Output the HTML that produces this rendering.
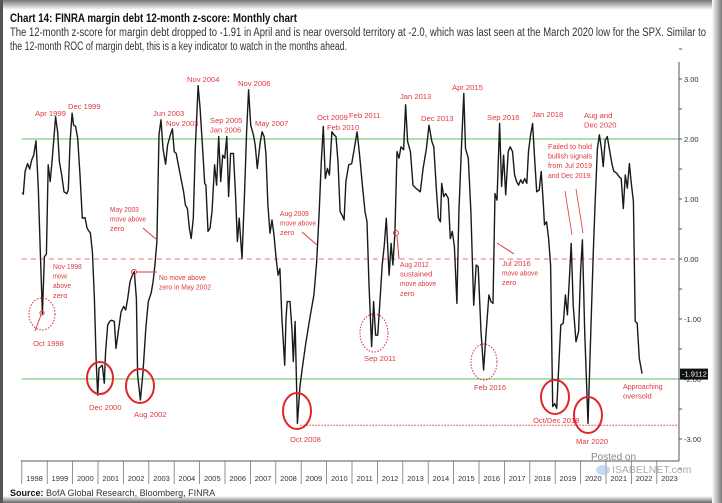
<!DOCTYPE html>
<html><head><meta charset="utf-8"><style>
html,body{margin:0;padding:0;background:#fff;}
#wrap{position:relative;width:722px;height:503px;overflow:hidden;background:#fff;}
svg{position:absolute;left:0;top:0;}
.nar{font-family:"Liberation Sans Narrow","Liberation Sans",sans-serif;}
</style></head><body>
<div id="wrap">
<svg id="chart" width="722" height="503" viewBox="0 0 722 503" xmlns="http://www.w3.org/2000/svg">
<defs>
<linearGradient id="gt" x1="0" y1="0" x2="0" y2="1"><stop offset="0" stop-color="#777"/><stop offset="1" stop-color="#fff"/></linearGradient>
<linearGradient id="gb" x1="0" y1="0" x2="0" y2="1"><stop offset="0" stop-color="#fff"/><stop offset="1" stop-color="#666"/></linearGradient>
<linearGradient id="gr" x1="0" y1="0" x2="1" y2="0"><stop offset="0" stop-color="#fff"/><stop offset="1" stop-color="#777"/></linearGradient>
</defs>
<rect x="0" y="0" width="722" height="10" fill="url(#gt)"/>
<rect x="0" y="496" width="722" height="7" fill="url(#gb)"/>
<rect x="712" y="0" width="10" height="503" fill="url(#gr)"/>
<rect x="0" y="0" width="3" height="503" fill="#555"/>

<text x="10" y="22" class="nar" font-size="12" font-weight="bold" fill="#111" textLength="287" lengthAdjust="spacingAndGlyphs">Chart 14: FINRA margin debt 12-month z-score: Monthly chart</text>
<text x="10" y="36" class="nar" font-size="11.5" fill="#333" textLength="696" lengthAdjust="spacingAndGlyphs">The 12-month z-score for margin debt dropped to -1.91 in April and is near oversold territory at -2.0, which was last seen at the March 2020 low for the SPX. Similar to</text>
<text x="10" y="50" class="nar" font-size="11.5" fill="#333" textLength="337" lengthAdjust="spacingAndGlyphs">the 12-month ROC of margin debt, this is a key indicator to watch in the months ahead.</text>

<g id="axes"></g>
<g id="refs"></g>
<g id="series"></g>
<g id="annot" class="nar" font-size="7.6" fill="#e0393e"></g>

<text x="10" y="496" class="nar" font-size="9" fill="#333"><tspan font-weight="bold" fill="#111">Source:</tspan> BofA Global Research, Bloomberg, FINRA</text>
<text x="591" y="460" font-family="Liberation Sans,sans-serif" font-size="10" fill="#888">Posted on</text>
<text x="612" y="473" font-family="Liberation Sans,sans-serif" font-size="10.5" fill="#aaa">ISABELNET.com</text>
<ellipse cx="603" cy="470" rx="7" ry="5" fill="#9bc3e6" opacity="0.6"/>
</svg>
</div>
<script>
const dates=[1998.02,1998.06,1998.13,1998.23,1998.31,1998.39,1998.47,1998.56,1998.65,1998.73,1998.81,1998.89,1998.97,1999.04,1999.12,1999.20,1999.33,1999.41,1999.48,1999.57,1999.66,1999.77,1999.83,1999.90,1999.98,2000.04,2000.12,2000.20,2000.29,2000.38,2000.49,2000.57,2000.70,2000.78,2000.86,2000.93,2000.99,2001.04,2001.12,2001.17,2001.25,2001.30,2001.38,2001.46,2001.54,2001.64,2001.71,2001.80,2001.91,2002.01,2002.09,2002.17,2002.26,2002.35,2002.43,2002.51,2002.56,2002.67,2002.77,2002.88,2002.98,2003.09,2003.17,2003.24,2003.32,2003.40,2003.48,2003.56,2003.66,2003.74,2003.85,2003.93,2004.00,2004.08,2004.16,2004.29,2004.37,
2004.44,2004.52,2004.60,2004.67,2004.75,2004.83,2004.94,2005.02,2005.12,2005.20,2005.25,2005.33,2005.41,2005.49,2005.59,2005.67,2005.75,2005.83,2005.91,2005.99,2006.07,2006.14,2006.22,2006.33,2006.41,2006.49,2006.56,2006.67,2006.77,2006.85,2006.93,2007.01,2007.12,2007.19,2007.27,2007.38,2007.46,2007.54,2007.61,2007.69,2007.77,2007.85,2007.93,2008.01,2008.09,2008.16,2008.24,2008.35,2008.40,2008.45,2008.56,2008.64,2008.69,2008.76,2008.80,2008.85,2008.95,2009.06,2009.19,2009.35,2009.50,2009.61,2009.71,2009.79,2009.87,2009.95,2010.03,2010.11,2010.21,2010.29,2010.37,2010.45,2010.53,2010.61,2010.69,2010.76,2010.87,
2010.99,2011.09,2011.20,2011.30,2011.41,2011.51,2011.59,2011.67,2011.77,2011.85,2011.93,2012.01,2012.09,2012.19,2012.27,2012.35,2012.46,2012.54,2012.61,2012.69,2012.77,2012.85,2012.93,2013.03,2013.11,2013.19,2013.30,2013.40,2013.51,2013.69,2013.80,2013.93,2014.03,2014.14,2014.22,2014.32,2014.40,2014.48,2014.53,2014.61,2014.69,2014.79,2014.87,2014.95,2015.03,2015.13,2015.21,2015.32,2015.40,2015.47,2015.58,2015.68,2015.79,2015.89,2015.97,2016.08,2016.18,2016.29,2016.39,2016.47,2016.55,2016.63,2016.71,2016.81,2016.89,2016.97,2017.05,2017.15,2017.23,
2017.32,2017.40,2017.48,2017.56,2017.64,2017.72,2017.80,2017.88,2017.95,2018.03,2018.11,2018.19,2018.27,2018.37,2018.45,2018.53,2018.58,2018.66,2018.74,2018.82,2018.90,2018.98,2019.06,2019.14,2019.22,2019.32,2019.40,2019.48,2019.56,2019.63,2019.71,2019.82,2019.92,2020.00,2020.07,2020.16,2020.29,2020.40,2020.50,2020.58,2020.66,2020.74,2020.82,2020.89,2020.97,2021.05,2021.13,2021.24,2021.31,2021.42,2021.52,2021.60,2021.68,2021.76,2021.84,2021.92,2021.99,2022.08,2022.15,2022.23,2022.31,2022.42];
const zscores=[1.11,1.08,1.46,1.59,1.50,1.65,1.73,1.97,1.18,0.12,-0.91,0.04,0.08,1.57,1.29,1.68,2.37,2.12,1.62,1.40,1.12,1.09,1.15,1.96,2.43,2.23,2.21,2.01,1.40,0.68,0.69,0.51,0.43,0.12,-0.66,-1.71,-2.27,-1.82,-1.79,-1.77,-2.07,-1.54,-1.10,-1.04,-1.02,-1.04,-1.49,-1.21,-0.88,-0.79,-0.85,-0.66,-0.38,-0.27,-0.21,-0.66,-1.93,-2.35,-1.88,-1.16,-0.71,-0.57,-0.38,-0.10,0.29,2.07,2.32,1.84,1.58,1.90,2.07,2.17,1.79,1.76,1.57,1.29,1.12,
0.90,0.84,0.51,0.34,0.68,1.84,2.89,2.51,1.84,1.26,1.23,0.46,0.51,0.79,1.57,1.23,2.04,1.29,1.73,1.68,2.04,1.04,1.76,1.76,1.12,0.29,0.68,0.01,1.12,2.12,2.82,2.23,2.07,1.90,1.51,1.93,2.12,2.04,1.76,0.90,0.43,0.65,0.40,0.01,-0.27,-0.16,-0.99,-1.77,-0.99,-0.71,-0.71,-1.21,-1.71,-1.04,-1.77,-2.74,-2.13,-1.77,-1.38,-0.96,-0.60,-0.04,0.79,1.62,2.21,1.34,1.51,1.40,2.12,2.07,2.04,1.62,0.79,0.73,0.65,1.29,1.57,
1.59,1.84,2.12,1.73,1.23,0.79,0.62,-0.43,-1.46,-0.71,-1.27,-1.27,-0.77,-0.10,0.23,0.68,-0.27,0.26,-0.10,0.43,1.79,1.68,1.87,1.82,2.57,1.96,1.79,1.23,1.18,1.12,1.51,1.84,2.23,1.96,1.87,1.18,0.68,0.62,1.26,1.04,1.09,1.01,0.34,0.46,0.21,-0.74,0.79,1.96,2.76,1.84,1.68,0.79,-0.77,-0.10,-0.13,-1.21,-1.85,-1.16,-0.60,-0.71,-0.74,1.09,0.98,2.26,1.21,1.73,1.07,1.79,1.87,
1.79,1.40,1.29,1.23,1.32,1.26,1.34,1.26,1.79,2.07,2.26,1.68,1.12,1.15,1.46,0.93,0.57,0.62,0.34,-0.10,-2.46,-2.41,-2.49,-1.77,-1.10,-1.07,-0.60,-0.93,-0.32,0.26,-0.77,-1.38,-1.21,-0.21,0.32,-1.21,-2.74,-1.21,0.12,1.01,1.84,2.07,1.84,1.54,1.98,2.04,1.84,1.57,1.46,1.43,1.37,1.34,0.84,1.40,1.18,1.59,1.29,0.96,-1.04,-1.07,-1.66,-1.91];
const years=[1998,1999,2000,2001,2002,2003,2004,2005,2006,2007,2008,2009,2010,2011,2012,2013,2014,2015,2016,2017,2018,2019,2020,2021,2022,2023];
const yTicks=[3,2,1,0,-1,-2,-3];
const yTickLabels=["3.00","2.00","1.00","0.00","-1.00","-2.00","-3.00"];
const lastValueLabel="-1.9112";
const refLow=-2.77;

const NS="http://www.w3.org/2000/svg";
const X0=21.8, YW=25.4, Y0=259, YU=60, RIGHT=679, BOT=461, TOP=62;
function xs(t){return X0+(t-1998)*YW;}
function ys(v){return Y0-v*YU;}
function mk(tag,attrs,parent,text){const e=document.createElementNS(NS,tag);for(const k in attrs)e.setAttribute(k,attrs[k]);if(text!==undefined)e.textContent=text;parent.appendChild(e);return e;}

const axes=document.getElementById('axes');
let e;
e=mk('line',{x1:RIGHT,y1:TOP,x2:RIGHT,y2:BOT,stroke:'#555','stroke-width':1},axes);


e=mk('line',{x1:X0-1,y1:BOT,x2:RIGHT,y2:BOT,stroke:'#555','stroke-width':1},axes);


for(let v=3.5;v>=-3.5;v-=0.5){
  e=mk('line',{x1:RIGHT,y1:ys(v),x2:RIGHT+3,y2:ys(v),stroke:'#555','stroke-width':1},axes);
  
  
}
yTicks.forEach((v,i)=>{
  e=mk('text',{x:RIGHT+5,y:ys(v)+3,'font-size':7.5,fill:'#333',class:'nar'},axes,yTickLabels[i]);
  
  
});
years.forEach((yr,i)=>{
  const xl=xs(yr);
  e=mk('line',{x1:xl,y1:BOT,x2:xl,y2:484,stroke:'#777','stroke-width':0.8},axes);
  
  
  e=mk('text',{x:xl+YW/2,y:481,'font-size':7.5,fill:'#333','text-anchor':'middle',class:'nar'},axes,String(yr));
  
  
});

const refs=document.getElementById('refs');
[2,-2].forEach(v=>{
  e=mk('line',{x1:X0,y1:ys(v),x2:RIGHT,y2:ys(v),stroke:'#5cc15c','stroke-width':1},refs);
  
  
});
e=mk('line',{x1:X0,y1:ys(0),x2:RIGHT,y2:ys(0),stroke:'#e5766e','stroke-width':1,'stroke-dasharray':'5,4'},refs);


e=mk('line',{x1:xs(2008.85)+3,y1:ys(refLow),x2:RIGHT,y2:ys(refLow),stroke:'#e0393e','stroke-width':1,'stroke-dasharray':'1.5,1.5'},refs);



const series=document.getElementById('series');
let d='';
dates.forEach((t,i)=>{d+=(i?'L':'M')+xs(t).toFixed(1)+','+ys(zscores[i]).toFixed(1);});
e=mk('path',{d:d,fill:'none',stroke:'#1a1a1a','stroke-width':1.4,'stroke-linejoin':'round'},series);



const lv=zscores[zscores.length-1];
e=mk('rect',{x:RIGHT+1,y:ys(lv)-5,width:28,height:11,fill:'#111'},series);


e=mk('text',{x:RIGHT+3,y:ys(lv)+3,'font-size':7.5,fill:'#fff',class:'nar'},series,lastValueLabel);



const an=document.getElementById('annot');
function lbl(x,y,lines,name,w){
  const t=mk('text',{x:x,y:y},an);
  
  
  lines.forEach((s,i)=>{const ts=mk('tspan',{x:x,y:y+i*9.6},t,s); if(w){ts.setAttribute('textLength',Math.min(w,s.length*3.6));ts.setAttribute('lengthAdjust','spacingAndGlyphs');}});
}
function circ(cx,cy,rx,ry,dotted,name){
  const c=mk('ellipse',{cx:cx,cy:cy,rx:rx,ry:ry,fill:'none',stroke:'#e0262b','stroke-width':dotted?1:2,'stroke-dasharray':dotted?'1.5,1.5':'none'},an);
  
  
}
function ln(x1,y1,x2,y2,name,w){
  const l=mk('line',{x1:x1,y1:y1,x2:x2,y2:y2,stroke:'#e0393e','stroke-width':w||1},an);
  
  
}
lbl(35,116,['Apr 1999'],'label-apr-1999');
lbl(68,109,['Dec 1999'],'label-dec-1999');
lbl(153,116,['Jun 2003'],'label-jun-2003');
lbl(166,126,['Nov 2003'],'label-nov-2003');
lbl(187,82,['Nov 2004'],'label-nov-2004');
lbl(238,86,['Nov 2006'],'label-nov-2006');
lbl(210,123,['Sep 2005','Jan 2006'],'label-sep-2005-jan-2006');
lbl(255,126,['May 2007'],'label-may-2007');
lbl(317,120,['Oct 2009'],'label-oct-2009');
lbl(327,130,['Feb 2010'],'label-feb-2010');
lbl(349,118,['Feb 2011'],'label-feb-2011');
lbl(400,99,['Jan 2013'],'label-jan-2013');
lbl(421,121,['Dec 2013'],'label-dec-2013');
lbl(452,90,['Apr 2015'],'label-apr-2015');
lbl(487,120,['Sep 2016'],'label-sep-2016');
lbl(532,117,['Jan 2018'],'label-jan-2018');
lbl(584,118,['Aug and','Dec 2020'],'label-aug-dec-2020');
lbl(548,149,['Failed to hold','bullish signals','from Jul 2019','and Dec 2019.'],'label-failed-signals',44);
lbl(110,212,['May 2003','move above','zero'],'label-may-2003-move',36);
lbl(159,280,['No move above','zero in May 2002'],'label-no-move-2002',52);
lbl(53,269,['Nov 1998','move','above','zero'],'label-nov-1998-move',32);
lbl(280,216,['Aug 2009','move above','zero'],'label-aug-2009-move',36);
lbl(400,267,['Aug 2012','sustained','move above','zero'],'label-aug-2012-move',36);
lbl(502,266,['Jul 2016','move above','zero'],'label-jul-2016-move',36);
lbl(33,346,['Oct 1998'],'label-oct-1998');
lbl(89,410,['Dec 2000'],'label-dec-2000');
lbl(134,417,['Aug 2002'],'label-aug-2002');
lbl(290,442,['Oct 2008'],'label-oct-2008');
lbl(364,361,['Sep 2011'],'label-sep-2011');
lbl(474,390,['Feb 2016'],'label-feb-2016');
lbl(533,423,['Oct/Dec 2018'],'label-oct-dec-2018');
lbl(576,444,['Mar 2020'],'label-mar-2020');
lbl(623,389,['Approaching','oversold'],'label-approaching-oversold',40);
circ(100,378,13,16,false,'circle-dec-2000');
circ(140,386,14,17,false,'circle-aug-2002');
circ(297,411,14,18,false,'circle-oct-2008');
circ(555,397,14,17,false,'circle-oct-dec-2018');
circ(588,415,14,18,false,'circle-mar-2020');
circ(42,314,13,16,true,'circle-oct-1998');
circ(374,333,14,19,true,'circle-sep-2011');
circ(484,362,13,18,true,'circle-feb-2016');
ln(143,228,157,240,'arrow-may-2003');
ln(302,232,317,245,'arrow-aug-2009');
ln(514,254,497,243,'arrow-jul-2016');
ln(137,272,157,272,'connector-may-2002');
e=mk('circle',{cx:134,cy:272,r:2.5,fill:'none',stroke:'#e0393e'},an);


e=mk('circle',{cx:396,cy:233,r:2.5,fill:'none',stroke:'#e0393e'},an);


ln(397,236,399,259,'connector-aug-2012');
e=mk('circle',{cx:42,cy:313,r:2,fill:'none',stroke:'#e0393e'},an);


ln(41,315,35,331,'connector-oct-1998');
ln(565,191,572,235,'pointer-jul-2019',0.8);
ln(576,189,583,233,'pointer-dec-2019',0.8);
</script>
</body></html>
